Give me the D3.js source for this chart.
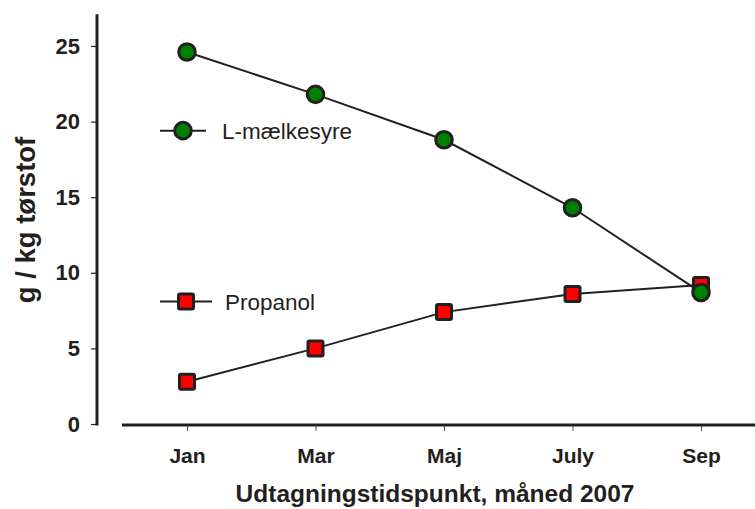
<!DOCTYPE html>
<html>
<head>
<meta charset="utf-8">
<script src="https://cdn.jsdelivr.net/npm/d3@7/dist/d3.min.js"></script>
<style>
  body { margin: 0; background: #fff; }
  svg { display: block; }
  text { font-family: "Liberation Sans", Arial, sans-serif; fill: #231f20; }
</style>
</head>
<body>
<svg id="chart" width="755" height="509"></svg>
<script>
const months = ["Jan", "Mar", "Maj", "July", "Sep"];
const lactic = [24.6, 21.8, 18.8, 14.3, 8.7];
const propanol = [2.8, 5.0, 7.4, 8.6, 9.2];
const yTicks = [0, 5, 10, 15, 20, 25];
const seriesNames = ["L-mælkesyre", "Propanol"];
const legendValues = [19.4, 8.1];
const xTitle = "Udtagningstidspunkt, måned 2007";
const yTitle = "g / kg tørstof";

const svg = d3.select("#chart");
const ink = "#231f20";
const ff = "'Liberation Sans', Arial, sans-serif";

const x = d3.scalePoint().domain(months).range([187, 701]);
const y = d3.scaleLinear().domain([0, 25]).range([424, 46]);

// Y axis
const yAxis = d3.axisLeft(y).tickValues(yTicks).tickSize(6).tickPadding(11);
const gy = svg.append("g").attr("transform", "translate(97,0)").call(yAxis);
gy.select(".domain").remove();
gy.selectAll(".tick line").attr("stroke", ink).attr("stroke-width", 1.2);
gy.selectAll(".tick text").attr("font-size", 22).attr("font-weight", "bold")
  .attr("fill", ink).style("font-family", ff);
svg.append("line").attr("x1", 97).attr("x2", 97).attr("y1", y(27.1)).attr("y2", y(0) + 1.5)
  .attr("stroke", ink).attr("stroke-width", 3);

// X axis
const xAxis = d3.axisBottom(x).tickSize(6).tickPadding(17);
const gx = svg.append("g").attr("transform", "translate(0,425)").call(xAxis);
gx.select(".domain").remove();
gx.selectAll(".tick line").attr("stroke", "#555").attr("stroke-width", 1);
gx.selectAll(".tick text").attr("font-size", 21).attr("font-weight", "bold")
  .attr("fill", ink).style("font-family", ff);
svg.append("line").attr("x1", 122).attr("x2", 755).attr("y1", 425).attr("y2", 425)
  .attr("stroke", ink).attr("stroke-width", 3);

// Titles
svg.append("text").attr("x", 435).attr("y", 502).attr("text-anchor", "middle")
  .attr("font-size", 24.5).attr("font-weight", "bold").text(xTitle);
svg.append("text").attr("transform", "translate(35,220) rotate(-90)").attr("text-anchor", "middle")
  .attr("font-size", 27.5).attr("font-weight", "bold").text(yTitle);

// Lines
const line = d3.line().x((d, i) => x(months[i])).y(d => y(d));
svg.append("path").datum(propanol).attr("d", line).attr("fill", "none").attr("stroke", ink).attr("stroke-width", 2);
svg.append("path").datum(lactic).attr("d", line).attr("fill", "none").attr("stroke", ink).attr("stroke-width", 2);

// Markers
function square(g, cx, cy) {
  g.append("rect").attr("x", cx - 7.5).attr("y", cy - 7.5).attr("width", 15).attr("height", 15)
    .attr("rx", 1.5).attr("fill", "#ff0000").attr("stroke", ink).attr("stroke-width", 3);
}
function circle(g, cx, cy) {
  g.append("circle").attr("cx", cx).attr("cy", cy).attr("r", 8.3)
    .attr("fill", "#008000").attr("stroke", ink).attr("stroke-width", 3);
}
propanol.forEach((v, i) => square(svg, x(months[i]), y(v)));
lactic.forEach((v, i) => circle(svg, x(months[i]), y(v)));

// Legend
const legX = [183, 186];
const lg = svg.append("g");
legendValues.forEach((v, i) => {
  const cy = y(v);
  lg.append("line").attr("x1", 160).attr("x2", i === 0 ? 206 : 212).attr("y1", cy).attr("y2", cy)
    .attr("stroke", ink).attr("stroke-width", 2);
  if (i === 0) circle(lg, legX[i], cy); else square(lg, legX[i], cy);
  lg.append("text").attr("x", i === 0 ? 222 : 225).attr("y", cy + 8)
    .attr("font-size", 22.5).text(seriesNames[i]);
});
</script>
</body>
</html>
